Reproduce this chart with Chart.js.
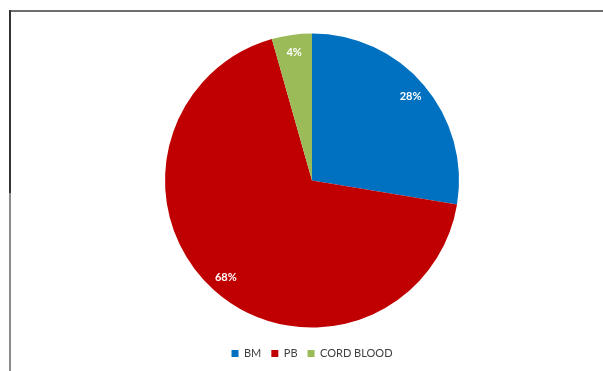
<!DOCTYPE html>
<html lang="en">
<head>
    <meta charset="UTF-8">
    <title>Stem cell source</title>
    <script src="https://cdn.jsdelivr.net/npm/chart.js"></script>
    <style>
        body {
            margin: 0;
            background-color: #fff;
        }
        #wrap {
            position: relative;
            width: 603px;
            height: 371px;
        }
        .line {
            position: absolute;
        }
        #topLine {
            left: 9px;
            top: 10px;
            width: 594px;
            height: 2px;
            background-color: #6e6e6e;
        }
        #leftTop {
            left: 9px;
            top: 10px;
            width: 2px;
            height: 183px;
            background-color: #333;
        }
        #leftBottom {
            left: 9px;
            top: 193px;
            width: 2px;
            height: 178px;
            background-color: #8c8c8c;
        }
        canvas {
            position: absolute;
            left: 0;
            top: 0;
        }
    </style>
</head>
<body>
    <div id="wrap">
        <canvas id="pieChart" width="603" height="371"></canvas>
        <div class="line" id="topLine"></div>
        <div class="line" id="leftTop"></div>
        <div class="line" id="leftBottom"></div>
    </div>

    <script>
        const categories = ['BM', 'PB', 'CORD BLOOD'];
        const shares = [27.6, 68, 4.4];
        const sliceColors = ['#0070C0', '#C00000', '#9BBB59'];

        // percent labels drawn inside each slice
        const sliceLabels = {
            id: 'sliceLabels',
            afterDatasetsDraw(chart) {
                const ctx = chart.ctx;
                const meta = chart.getDatasetMeta(0);
                ctx.save();
                ctx.font = 'bold 11px Lato, "DejaVu Sans", sans-serif';
                ctx.fillStyle = '#fff';
                ctx.textAlign = 'center';
                ctx.textBaseline = 'middle';
                meta.data.forEach((arc, i) => {
                    const p = arc.getProps(['x', 'y', 'startAngle', 'endAngle', 'outerRadius'], true);
                    const mid = (p.startAngle + p.endAngle) / 2;
                    const r = p.outerRadius * 0.88;
                    ctx.fillText(Math.round(shares[i]) + '%', p.x + Math.cos(mid) * r, p.y + Math.sin(mid) * r);
                });
                ctx.restore();
            }
        };

        const ctx = document.getElementById('pieChart').getContext('2d');
        new Chart(ctx, {
            type: 'pie',
            data: {
                labels: categories,
                datasets: [{
                    data: shares,
                    backgroundColor: sliceColors,
                    borderWidth: 0,
                    radius: 147
                }]
            },
            options: {
                responsive: false,
                animation: false,
                layout: {
                    padding: { top: 23, left: 21, right: 0, bottom: 2 }
                },
                plugins: {
                    legend: {
                        position: 'bottom',
                        labels: {
                            boxWidth: 7,
                            boxHeight: 7,
                            padding: 10,
                            color: '#404040',
                            font: { family: 'Lato, "DejaVu Sans", sans-serif', size: 11 }
                        }
                    },
                    tooltip: { enabled: false }
                }
            },
            plugins: [sliceLabels]
        });
    </script>
</body>
</html>
